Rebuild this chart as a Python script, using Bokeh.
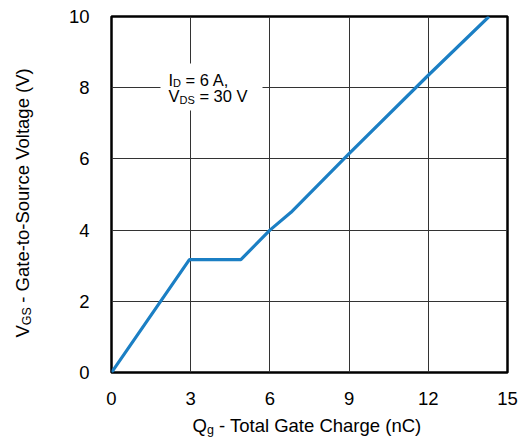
import math
from bokeh.plotting import figure
from bokeh.layouts import row, column
from bokeh.models import Range1d, Label, FixedTicker
from bokeh.embed import file_html
from bokeh.resources import INLINE

# Data
qg_nc = [0.0, 2.95, 4.9, 6.0, 6.8, 9.0, 12.0, 14.3]
vgs_v = [0.0, 3.17, 3.17, 4.0, 4.5, 6.15, 8.35, 10.0]
x_ticks = [0, 3, 6, 9, 12, 15]
y_ticks = [0, 2, 4, 6, 8, 10]

FONT = "Liberation Sans"
TOTAL_W, TOTAL_H = 523, 438
LEFT_W = 50
MAIN_H = 410
ML, MR, MT, MB = 61, 16, 16, 38
MAIN_W = TOTAL_W - LEFT_W
SHIFT = 6  # empirical baseline correction

p = figure(width=MAIN_W, height=MAIN_H, output_backend="svg", toolbar_location=None,
           title=None,
           x_range=Range1d(0, 15), y_range=Range1d(0, 10),
           min_border_left=ML, min_border_right=MR,
           min_border_top=MT, min_border_bottom=MB)
p.background_fill_color = "white"
p.border_fill_color = "white"
p.outline_line_color = "black"
p.outline_line_width = 2.5

for ax, ticks in ((p.xaxis, x_ticks), (p.yaxis, y_ticks)):
    ax.ticker = FixedTicker(ticks=ticks)
    ax.axis_line_color = None
    ax.major_tick_line_color = None
    ax.minor_tick_line_color = None
    ax.major_label_text_font = FONT
    ax.major_label_text_font_size = "18.5px"
    ax.major_label_text_color = "black"
p.xaxis.major_label_standoff = 13
p.yaxis.major_label_standoff = 16

p.xgrid.ticker = FixedTicker(ticks=x_ticks)
p.ygrid.ticker = FixedTicker(ticks=y_ticks)
for g in (p.xgrid, p.ygrid):
    g.grid_line_color = "#333333"
    g.grid_line_width = 1

FX0 = LEFT_W + ML
FY1 = MAIN_H - MB
fw = MAIN_W - ML - MR
fh = MAIN_H - MT - MB


def dx(px):
    return (px - FX0) / fw * 15


def dy(py):
    return (FY1 - py) / fh * 10


p.quad(left=dx(160), right=dx(262), top=dy(63), bottom=dy(110),
       fill_color="white", line_color=None)
p.line(qg_nc, vgs_v, line_color="#1b7fc4", line_width=3.2)


def lab(fig, text, x, y, size, angle=0.0):
    fig.add_layout(Label(x=x, y=y, text=text, angle=angle,
                         text_font=FONT, text_font_size=size, text_color="black",
                         text_align="left", text_baseline="alphabetic"))


lab(p, "I", dx(168), dy(85 - SHIFT), "16.5px")
lab(p, "D", dx(172.6), dy(88.5 - SHIFT), "11px")
lab(p, "= 6 A,", dx(185.1), dy(85 - SHIFT), "16.5px")
lab(p, "V", dx(168), dy(101.5 - SHIFT), "16.5px")
lab(p, "DS", dx(179), dy(105 - SHIFT), "11px")
lab(p, "= 30 V", dx(198.9), dy(101.5 - SHIFT), "16.5px")


def strip(w, h, xr, yr):
    f = figure(width=w, height=h, output_backend="svg", toolbar_location=None,
               title=None, x_axis_location=None, y_axis_location=None,
               x_range=Range1d(*xr), y_range=Range1d(*yr),
               min_border=0, min_border_left=0, min_border_right=0,
               min_border_top=0, min_border_bottom=0)
    f.grid.visible = False
    f.outline_line_color = None
    f.background_fill_color = "white"
    f.border_fill_color = "white"
    return f


XH = TOTAL_H - MAIN_H
xl = strip(MAIN_W, XH, (FX0, FX0 + fw), (TOTAL_H, MAIN_H))
lab(xl, "Q", 192, 431 - SHIFT, "18.5px")
lab(xl, "g", 206.4, 435 - SHIFT, "12.5px")
lab(xl, "- Total Gate Charge (nC)", 218.5, 431 - SHIFT, "18.5px")

yl = strip(LEFT_W, TOTAL_H, (0, LEFT_W), (TOTAL_H, 0))
a = math.pi / 2
lab(yl, "V", 28 - SHIFT, 337, "18.5px", a)
lab(yl, "GS", 32 - SHIFT, 324.7, "12.5px", a)
lab(yl, "- Gate-to-Source Voltage (V)", 28 - SHIFT, 302.2, "18.5px", a)

layout = row(yl, column(p, xl, spacing=0), spacing=0)
open("out.html", "w").write(file_html(layout, INLINE))
